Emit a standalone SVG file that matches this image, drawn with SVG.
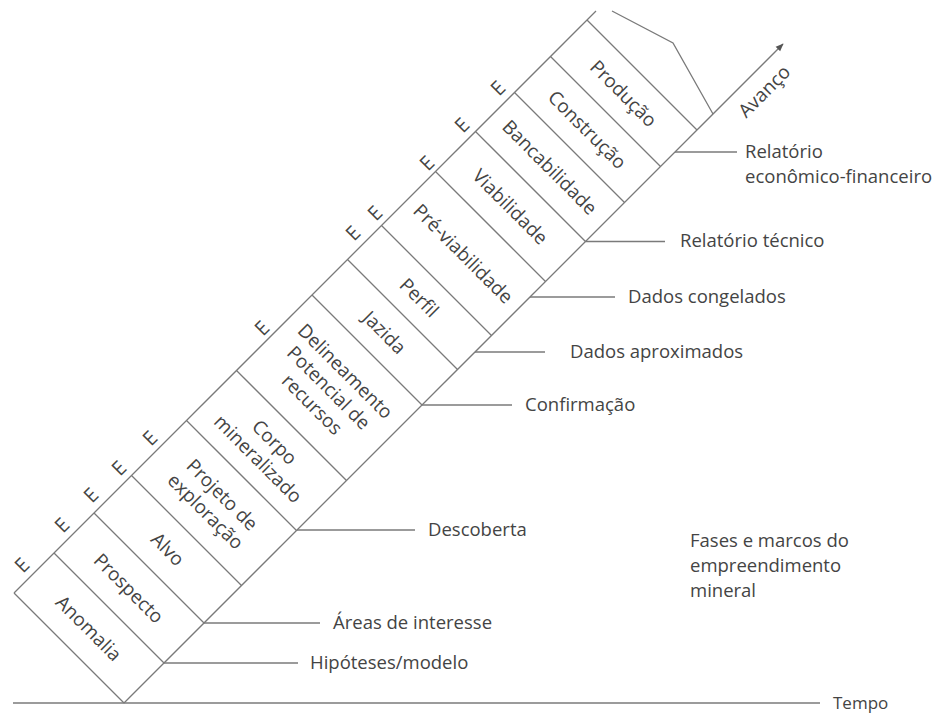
<svg xmlns="http://www.w3.org/2000/svg" width="940" height="714" viewBox="0 0 940 714">
<style>
.ln{stroke:#7a7a7a;stroke-width:1.3;fill:none}
.lbl{font-family:"Open Sans","Liberation Sans",sans-serif;font-size:18.5px;fill:#444}
.ph{font-family:"Open Sans","Liberation Sans",sans-serif;font-size:19px;fill:#444;text-anchor:middle}
.e{font-family:"Open Sans","Liberation Sans",sans-serif;font-size:20px;fill:#444;text-anchor:middle}
</style>
<defs>
<marker id="ah" viewBox="0 0 10 10" refX="9" refY="5" markerWidth="8" markerHeight="8" orient="auto" markerUnits="userSpaceOnUse">
<path d="M0,1 L10,5 L0,9 Z" fill="#555"/>
</marker>
</defs>
<rect width="940" height="714" fill="#fff"/>
<g id="band">
<line class="ln" x1="14" y1="593" x2="596" y2="11"/>
<line class="ln" x1="124" y1="703" x2="783" y2="44" marker-end="url(#ah)"/>
<polyline class="ln" points="612,11 673,43 713,114"/>
<line class="ln" x1="13" y1="703" x2="820" y2="703"/>
</g>
<g id="dividers">
<line class="ln" x1="14" y1="593" x2="124" y2="703"/>
<line class="ln" x1="54" y1="553" x2="164" y2="663"/>
<line class="ln" x1="94" y1="513" x2="204" y2="623"/>
<line class="ln" x1="131.5" y1="475.5" x2="241.5" y2="585.5"/>
<line class="ln" x1="186.5" y1="420.5" x2="296.5" y2="530.5"/>
<line class="ln" x1="236.5" y1="370.5" x2="346.5" y2="480.5"/>
<line class="ln" x1="312" y1="295" x2="422" y2="405"/>
<line class="ln" x1="347.5" y1="259.5" x2="457.5" y2="369.5"/>
<line class="ln" x1="381.5" y1="225.5" x2="491.5" y2="335.5"/>
<line class="ln" x1="435.5" y1="171.5" x2="545.5" y2="281.5"/>
<line class="ln" x1="475.5" y1="131.5" x2="585.5" y2="241.5"/>
<line class="ln" x1="514.5" y1="92.5" x2="624.5" y2="202.5"/>
<line class="ln" x1="550.5" y1="56.5" x2="660.5" y2="166.5"/>
<line class="ln" x1="587" y1="20" x2="697" y2="130"/>
</g>
<g id="connectors">
<line class="ln" x1="164" y1="663" x2="298" y2="663"/>
<line class="ln" x1="204" y1="623" x2="320" y2="623"/>
<line class="ln" x1="297" y1="530" x2="415" y2="530"/>
<line class="ln" x1="422" y1="405" x2="512" y2="405"/>
<line class="ln" x1="475" y1="352" x2="545" y2="352"/>
<line class="ln" x1="530" y1="297" x2="615" y2="297"/>
<line class="ln" x1="585.5" y1="241.5" x2="665" y2="241.5"/>
<line class="ln" x1="675" y1="152" x2="737" y2="152"/>
</g>
<g id="phases">
<g id="anomalia" transform="translate(89,628) rotate(45)"><text class="ph" y="7">Anomalia</text></g>
<g id="prospecto" transform="translate(129,588) rotate(45)"><text class="ph" y="7">Prospecto</text></g>
<g id="alvo" transform="translate(168,549) rotate(45)"><text class="ph" y="7">Alvo</text></g>
<g id="projeto" transform="translate(214,503) rotate(45)"><text class="ph" y="-5">Projeto de</text><text class="ph" y="18.5">exploração</text></g>
<g id="corpo" transform="translate(266.5,450.5) rotate(45)"><text class="ph" y="-5">Corpo</text><text class="ph" y="18.5">mineralizado</text></g>
<g id="delineamento" transform="translate(329,387.5) rotate(45)"><text class="ph" y="-16.5">Delineamento</text><text class="ph" y="7">Potencial de</text><text class="ph" y="30.5">recursos</text></g>
<g id="jazida" transform="translate(384.75,332.25) rotate(45)"><text class="ph" y="7">Jazida</text></g>
<g id="perfil" transform="translate(419.5,297.5) rotate(45)"><text class="ph" y="7">Perfil</text></g>
<g id="previabilidade" transform="translate(463.5,253.5) rotate(45)"><text class="ph" y="7">Pré-viabilidade</text></g>
<g id="viabilidade" transform="translate(510.5,206.5) rotate(45)"><text class="ph" y="7">Viabilidade</text></g>
<g id="bancabilidade" transform="translate(550,167) rotate(45)"><text class="ph" y="7">Bancabilidade</text></g>
<g id="construcao" transform="translate(587.5,129.5) rotate(45)"><text class="ph" y="7">Construção</text></g>
<g id="producao" transform="translate(623.75,93.25) rotate(45)"><text class="ph" y="7">Produção</text></g>
</g>
<g id="marks">
<text class="e" transform="translate(22,565) rotate(-45)" y="7">E</text>
<text class="e" transform="translate(62,525) rotate(-45)" y="7">E</text>
<text class="e" transform="translate(91,495) rotate(-45)" y="7">E</text>
<text class="e" transform="translate(119,468) rotate(-45)" y="7">E</text>
<text class="e" transform="translate(150,438) rotate(-45)" y="7">E</text>
<text class="e" transform="translate(262,328) rotate(-45)" y="7">E</text>
<text class="e" transform="translate(353,233) rotate(-45)" y="7">E</text>
<text class="e" transform="translate(375,213) rotate(-45)" y="7">E</text>
<text class="e" transform="translate(427,163) rotate(-45)" y="7">E</text>
<text class="e" transform="translate(462,125) rotate(-45)" y="7">E</text>
<text class="e" transform="translate(498,88) rotate(-45)" y="7">E</text>
</g>
<g id="labels">
<text class="lbl" x="745" y="158">Relatório</text>
<text class="lbl" x="745" y="183">econômico-financeiro</text>
<text class="lbl" x="680" y="247">Relatório técnico</text>
<text class="lbl" x="628" y="303">Dados congelados</text>
<text class="lbl" x="570" y="358">Dados aproximados</text>
<text class="lbl" x="525" y="411">Confirmação</text>
<text class="lbl" x="428" y="536">Descoberta</text>
<text class="lbl" x="333" y="629">Áreas de interesse</text>
<text class="lbl" x="310" y="669">Hipóteses/modelo</text>
<text class="lbl" x="833" y="709" style="font-size:17px">Tempo</text>
<text class="lbl" x="690" y="547">Fases e marcos do</text>
<text class="lbl" x="690" y="572">empreendimento</text>
<text class="lbl" x="690" y="597">mineral</text>
<text class="lbl" transform="translate(764,91) rotate(-45)" text-anchor="middle" y="7" style="font-size:19px">Avanço</text>
</g>
</svg>
